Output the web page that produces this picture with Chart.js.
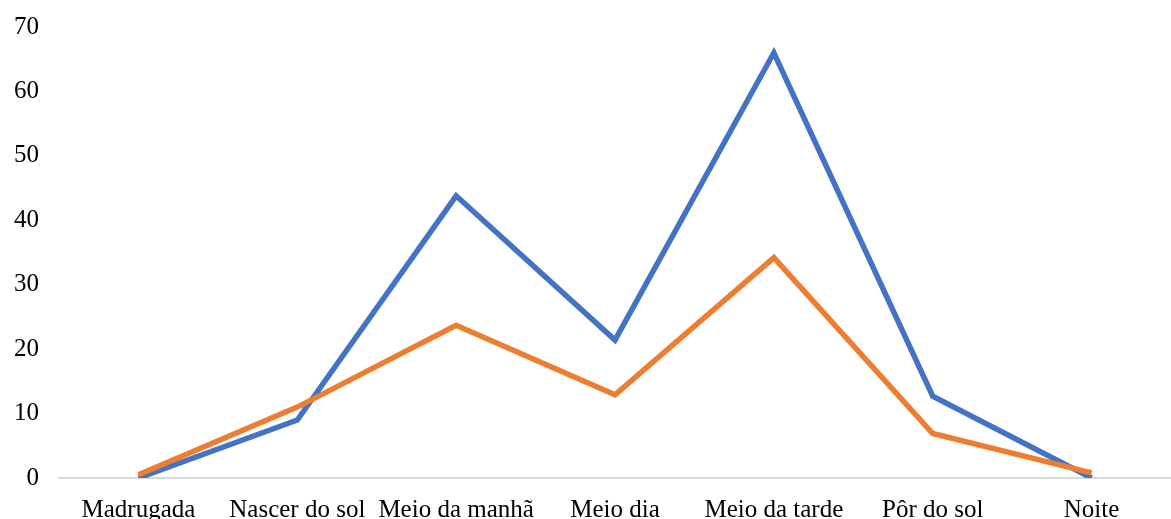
<!DOCTYPE html>
<html>
<head>
<meta charset="utf-8">
<script src="https://cdn.jsdelivr.net/npm/chart.js@4"></script>
<style>
  html, body { margin: 0; padding: 0; background: #fff; overflow: hidden; }
  #wrap { width: 1171px; height: 519px; position: relative; }
</style>
</head>
<body>
<div id="wrap"><canvas id="lineChart"></canvas></div>
<script>
const categories = ['Madrugada', 'Nascer do sol', 'Meio da manhã', 'Meio dia', 'Meio da tarde', 'Pôr do sol', 'Noite'];
const blueValues = [0, 9, 43.8, 21.4, 66, 12.7, 0];
const orangeValues = [0.5, 11, 23.7, 12.9, 34.2, 6.9, 0.8];
const yTicks = [0, 10, 20, 30, 40, 50, 60, 70];

document.addEventListener('DOMContentLoaded', function() {
    const ctx = document.getElementById('lineChart');
    const font = { family: '"Liberation Serif", "Times New Roman", serif', size: 25 };

    new Chart(ctx, {
        type: 'line',
        data: {
            labels: categories,
            datasets: [{
                label: 'Série 1',
                data: blueValues,
                borderColor: '#4472C4',
                borderWidth: 5.5,
                pointRadius: 0,
                tension: 0,
                order: 2
            }, {
                label: 'Série 2',
                data: orangeValues,
                borderColor: '#ED7D31',
                borderWidth: 5.5,
                pointRadius: 0,
                tension: 0,
                order: 1
            }]
        },
        options: {
            responsive: true,
            maintainAspectRatio: false,
            animation: false,
            layout: { padding: { top: 24, right: 0, left: 0, bottom: 0 } },
            plugins: {
                legend: { display: false },
                tooltip: { enabled: false }
            },
            scales: {
                x: {
                    offset: true,
                    grid: { display: false },
                    border: { display: true, color: '#d9d9d9', width: 2 },
                    ticks: { color: '#000', font: font, padding: 9, maxRotation: 0, autoSkip: false },
                    afterFit: function(scale) { scale.height = 41; }
                },
                y: {
                    min: 0,
                    max: 70,
                    grid: { display: false },
                    border: { display: false },
                    afterBuildTicks: function(scale) { scale.ticks = yTicks.map(v => ({ value: v })); },
                    ticks: { color: '#000', font: font, padding: 12 },
                    afterFit: function(scale) { scale.width = 59; }
                }
            }
        }
    });
});
</script>
</body>
</html>
